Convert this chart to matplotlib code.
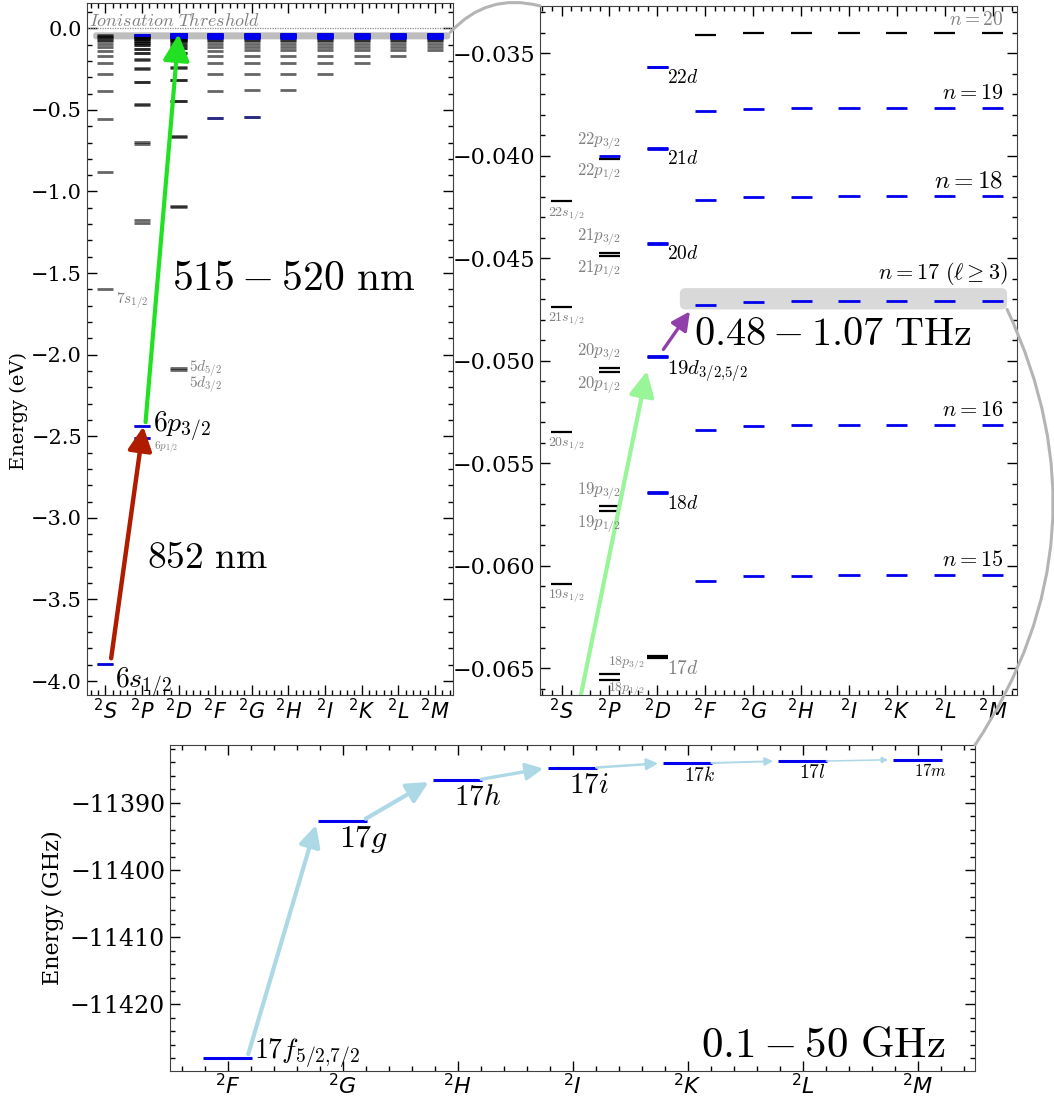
import matplotlib
matplotlib.use('Agg')
import matplotlib.pyplot as plt
from matplotlib.patches import FancyArrowPatch, FancyBboxPatch, ConnectionPatch
from matplotlib.ticker import MultipleLocator, ScalarFormatter

plt.rcParams['font.family'] = 'serif'
plt.rcParams['font.serif'] = ['DejaVu Serif']

# term symbols along the x axis (column index = l)
TERMS = ['S', 'P', 'D', 'F', 'G', 'H', 'I', 'K', 'L', 'M']

# Cs level energies (eV) below the ionisation limit
S_N = list(range(6, 23))
S_E = [-3.8939, -1.5958, -0.8790, -0.5574, -0.3851, -0.2820, -0.2154, -0.1699,
       -0.1375, -0.1135, -0.0953, -0.0811, -0.0699, -0.06088, -0.05348, -0.04736, -0.04223]
P_N = list(range(6, 23))
P12_E = [-2.5080, -1.1954, -0.7064, -0.4674, -0.3322, -0.2484, -0.1927, -0.1538,
         -0.1257, -0.1046, -0.0884, -0.0757, -0.06555, -0.05732, -0.05054, -0.04490, -0.04016]
P32_E = [-2.4393, -1.1729, -0.6962, -0.4618, -0.3289, -0.2462, -0.1912, -0.1528,
         -0.1249, -0.1040, -0.0879, -0.0753, -0.06526, -0.05708, -0.05034, -0.04473, -0.04001]
D_N = list(range(5, 23))
D32_E = [-2.0963, -1.0933, -0.6644, -0.4458, -0.3196, -0.2409, -0.1876, -0.1502, -0.1230,
         -0.1025, -0.0868, -0.0744, -0.06452, -0.05647, -0.04984, -0.04431, -0.03966, -0.03570]
D52_E = [-2.0841, -1.0880, -0.6618, -0.4443, -0.3187, -0.2397, -0.1868, -0.1497, -0.1226,
         -0.1023, -0.0866, -0.0743, -0.06441, -0.05639, -0.04977, -0.04426, -0.03961, -0.03566]
F_N = list(range(5, 21))
F_E = [-0.5499, -0.3815, -0.2800, -0.2142, -0.1691, -0.1369, -0.1131, -0.0950, -0.0809,
       -0.06974, -0.06073, -0.05336, -0.04726, -0.04215, -0.03782, -0.03413]
G_N = list(range(5, 21))
G_E = [-0.5453, -0.3787, -0.2781, -0.2129, -0.1682, -0.1362, -0.1126, -0.0946, -0.0806,
       -0.06948, -0.06052, -0.05319, -0.04712, -0.04203, -0.03772, -0.03404]
H_N = list(range(6, 21))
H_E = [-0.3782, -0.2778, -0.2127, -0.1681, -0.1361, -0.1125, -0.0945, -0.0805,
       -0.06944, -0.06049, -0.05316, -0.04709, -0.04200, -0.03770, -0.03402]
# l >= 6 are hydrogenic at this resolution
HYD_N = list(range(7, 21))
HYD_E = [-0.2777, -0.2126, -0.1680, -0.1361, -0.1124, -0.0945, -0.0805,
         -0.06942, -0.06047, -0.05315, -0.04708, -0.04199, -0.03769, -0.03401]

# n = 17 manifold, l = 3..9 (GHz)
N17_COLS = [3, 4, 5, 6, 7, 8, 9]
N17_E = [-11428.0, -11392.7, -11386.6, -11384.8, -11384.1, -11383.8, -11383.6]
N17_LABELS = [r'$17f_{5/2{,}7/2}$', r'$17g$', r'$17h$', r'$17i$', r'$17k$', r'$17l$', r'$17m$']
N17_SIZES = [20, 23, 21, 21, 14, 14, 12]

# (column, tag, n list, energies)
SERIES = [
    (0, 's', S_N, S_E),
    (1, 'p12', P_N, P12_E),
    (1, 'p32', P_N, P32_E),
    (2, 'd32', D_N, D32_E),
    (2, 'd52', D_N, D52_E),
    (3, 'f', F_N, F_E),
    (4, 'g', G_N, G_E),
    (5, 'h', H_N, H_E),
    (6, 'i', HYD_N, HYD_E),
    (7, 'k', HYD_N[1:], HYD_E[1:]),
    (8, 'l', HYD_N[2:], HYD_E[2:]),
    (9, 'm', HYD_N[3:], HYD_E[3:]),
]

HALF = 0.22
GREY = '#808080'
BLUE = '#0000ee'
CM = dict(math_fontfamily='cm')


def highlighted(col, tag, n):
    if col == 2 and n >= 18:
        return True
    if col >= 3 and 15 <= n <= 19:
        return True
    return tag == 'p32' and n == 22


def level(col, tag, n):
    for c, t, ns, es in SERIES:
        if c == col and t == tag:
            return es[ns.index(n)]


def style_axes(ax, xlim, xminor, ymajor, yminor, xsize, ysize, cols):
    ax.set_xlim(*xlim)
    ax.set_xticks(cols)
    ax.set_xticklabels([f'$^2{TERMS[c]}$' for c in cols], fontsize=xsize)
    ax.xaxis.set_minor_locator(MultipleLocator(xminor))
    ax.yaxis.set_major_locator(MultipleLocator(ymajor))
    ax.yaxis.set_minor_locator(MultipleLocator(yminor))
    ax.tick_params(which='both', direction='in', top=True, right=True, width=1)
    ax.tick_params(which='major', length=7)
    ax.tick_params(which='minor', length=3.5)
    ax.tick_params(axis='x', pad=2)
    ax.tick_params(axis='y', labelsize=ysize)
    for sp in ax.spines.values():
        sp.set_color('0.25')


def arrow(ax, start, end, color, lw, head, shrinkA=0, shrinkB=0):
    ax.add_patch(FancyArrowPatch(start, end, arrowstyle='-|>', mutation_scale=head,
                                 color=color, lw=lw, shrinkA=shrinkA, shrinkB=shrinkB,
                                 zorder=6))


def tag_level(ax, text, x, y, dx, dy, ha, va, size, color='k'):
    ax.annotate(text, xy=(x, y), xytext=(dx, dy), textcoords='offset points',
                ha=ha, va=va, fontsize=size, color=color, zorder=7, **CM)


fig = plt.figure(figsize=(10.54, 10.97), dpi=100)
ax1 = fig.add_axes([0.0825, 0.3665, 0.3475, 0.6308])
ax2 = fig.add_axes([0.5123, 0.3665, 0.4523, 0.6281])
ax3 = fig.add_axes([0.1613, 0.0237, 0.7638, 0.2972])

# ---------------- full spectrum (eV) ----------------
ax1.set_ylim(-4.085, 0.155)
style_axes(ax1, (-0.5, 9.5), 0.2, 0.5, 0.1, 15, 15, range(10))
ax1.set_ylabel('Energy (eV)', fontsize=14)
ax1.yaxis.set_label_coords(-0.16, 0.41)

for col, tag, ns, es in SERIES:
    ax1.hlines(es, col - HALF, col + HALF, colors='k', lw=2, alpha=0.6, zorder=3)
    blue = [e for n, e in zip(ns, es) if highlighted(col, tag, n)]
    if blue:
        ax1.hlines(blue, col - HALF, col + HALF, colors=BLUE, lw=2, zorder=4)

ax1.hlines([S_E[0], P12_E[0], P32_E[0]], [0 - HALF, 1 - HALF, 1 - HALF],
           [0 + HALF, 1 + HALF, 1 + HALF], colors=BLUE, lw=1.8, zorder=4)
ax1.hlines([F_E[0], G_E[0]], [3 - HALF, 4 - HALF], [3 + HALF, 4 + HALF],
           colors='#2a2a86', lw=2, zorder=4)

ax1.add_patch(FancyBboxPatch((-0.33, -0.068), 9.75, 0.043,
                             boxstyle='round,pad=0,rounding_size=0.08',
                             mutation_aspect=0.225, fc='#bebebe', ec='none', zorder=2))
ax1.axhline(0, color='0.55', ls=(0, (1, 1)), lw=0.9, zorder=2)
ax1.text(-0.45, 0.012, r'$\mathit{Ionisation\ Threshold}$', color=GREY, fontsize=13,
         ha='left', va='baseline', **CM)

tag_level(ax1, r'$6s_{1/2}$', HALF, S_E[0], 1, -1, 'left', 'top', 20)
tag_level(ax1, r'$6p_{3/2}$', 1 + HALF, P32_E[0], 2, 0, 'left', 'center', 20)
tag_level(ax1, r'$6p_{1/2}$', 1 + HALF, P12_E[0], 3, -1, 'left', 'top', 8, GREY)
tag_level(ax1, r'$7s_{1/2}$', HALF, S_E[1], 2, -1, 'left', 'top', 11, GREY)
tag_level(ax1, r'$5d_{5/2}$', 2 + HALF, D52_E[0], 2, 0, 'left', 'center', 11, GREY)
tag_level(ax1, r'$5d_{3/2}$', 2 + HALF, D32_E[0], 2, -2.5, 'left', 'top', 11, GREY)

arrow(ax1, (0 + 0.14, S_E[0]), (1 + 0.04, P32_E[0]), '#b01c00', 3.2, 36, shrinkA=4)
arrow(ax1, (1 + 0.09, P32_E[0]), (2.0, D52_E[-1]), '#22e022', 3.0, 40, shrinkA=3)
ax1.text(1.82, -1.602, r'$515-520\ \mathrm{nm}$', fontsize=30, ha='left',
         va='baseline', **CM)
ax1.text(1.13, -3.305, r'$852\ \mathrm{nm}$', fontsize=27, ha='left',
         va='baseline', **CM)

# ---------------- zoom around n = 15-22 (eV) ----------------
ax2.set_ylim(-0.0663, -0.0327)
style_axes(ax2, (-0.45, 9.5), 0.2, 0.005, 0.001, 15, 16, range(10))

for col, tag, ns, es in SERIES:
    for n, e in zip(ns, es):
        if highlighted(col, tag, n):
            ax2.hlines(e, col - HALF, col + HALF, colors=BLUE, lw=2, zorder=4)
        else:
            ax2.hlines(e, col - HALF, col + HALF, colors='k', lw=1.6, zorder=3)

ax2.add_patch(FancyBboxPatch((2.47, -0.0475), 6.83, 0.00104,
                             boxstyle='round,pad=0,rounding_size=0.12',
                             mutation_aspect=0.002334, fc='#d9d9d9', ec='none', zorder=2))

for n in range(19, 23):
    tag_level(ax2, rf'${n}s_{{1/2}}$', -HALF, level(0, 's', n), -2, -3,
              'left', 'top', 10, GREY)
for n in range(19, 23):
    tag_level(ax2, rf'${n}p_{{3/2}}$', 1 + HALF, level(1, 'p32', n), 1, 3,
              'right', 'bottom', 12, GREY)
    tag_level(ax2, rf'${n}p_{{1/2}}$', 1 + HALF, level(1, 'p12', n), 1, -2,
              'right', 'top', 12, GREY)
tag_level(ax2, r'$18p_{3/2}$', 1 - 0.02, level(1, 'p32', 18), 0, 1,
          'left', 'bottom', 10, GREY)
tag_level(ax2, r'$18p_{1/2}$', 1 - 0.02, level(1, 'p12', 18), 0, -1,
          'left', 'top', 10, GREY)

d_labels = {17: r'$17d$', 18: r'$18d$', 19: r'$19d_{3/2{,}5/2}$',
            20: r'$20d$', 21: r'$21d$', 22: r'$22d$'}
for n, txt in d_labels.items():
    tag_level(ax2, txt, 2 + HALF, level(2, 'd32', n), -1, -1, 'left', 'top',
              15 if n == 19 else 14, GREY if n == 17 else 'k')

n_sizes = {20: 14, 19: 16, 18: 18, 16: 16, 15: 16}
for n, size in n_sizes.items():
    tag_level(ax2, rf'$n={n}$', 9 + HALF, level(9, 'm', n), 0, 3,
              'right', 'bottom', size, GREY if n == 20 else 'k')
tag_level(ax2, r'$n=17\ (\ell\geq3)$', 9.32, level(9, 'm', 17), 0, 10,
          'right', 'bottom', 16)

arrow(ax2, (0.3, -0.0675), (2 - 0.16, level(2, 'd32', 19)), '#98f598', 3.0, 38,
      shrinkB=10)
arrow(ax2, (2 + 0.01, level(2, 'd32', 19)), (3 - 0.22, level(3, 'f', 17)),
      '#9040a8', 2.4, 28, shrinkA=7, shrinkB=6)
ax2.text(2.76, -0.04924, r'$0.48-1.07\ \mathrm{THz}$', fontsize=29, ha='left',
         va='baseline', **CM)

# ---------------- n = 17, l >= 3 (GHz) ----------------
ax3.set_ylim(-11429.9, -11381.4)
style_axes(ax3, (2.5, 9.5), 0.2, 10, 2, 16, 17, N17_COLS)
ax3.yaxis.set_major_formatter(ScalarFormatter(useOffset=False))
ax3.set_ylabel('Energy (GHz)', fontsize=16)

ax3.hlines(N17_E, [c - 0.21 for c in N17_COLS], [c + 0.21 for c in N17_COLS],
           colors=BLUE, lw=2.2, zorder=4)
tag_level(ax3, N17_LABELS[0], N17_COLS[0] + 0.21, N17_E[0], 2, 0, 'left', 'baseline',
          N17_SIZES[0])
for c, e, txt, size in zip(N17_COLS[1:], N17_E[1:], N17_LABELS[1:], N17_SIZES[1:]):
    tag_level(ax3, txt, c - 0.03, e, 0, -2, 'left', 'top', size)

ARROW_LW = [3.0, 3.0, 2.4, 1.8, 1.4, 1.1]
ARROW_HEAD = [32, 32, 26, 17, 12, 9]
for i in range(len(N17_COLS) - 1):
    arrow(ax3, (N17_COLS[i] + 0.17, N17_E[i]), (N17_COLS[i + 1] - 0.22, N17_E[i + 1]),
          '#add8e6', ARROW_LW[i], ARROW_HEAD[i], shrinkA=3, shrinkB=3)
ax3.text(7.12, -11427.8, r'$0.1-50\ \mathrm{GHz}$', fontsize=31, ha='left',
         va='baseline', **CM)

# curved guides linking the zoomed regions
con1 = ConnectionPatch(xyA=(9.42, -0.025), coordsA=ax1.transData,
                       xyB=(0, 1), coordsB=ax2.transAxes,
                       connectionstyle='arc3,rad=-0.3', color='#b4b4b4', lw=2.2)
con2 = ConnectionPatch(xyA=(9.30, -0.0475), coordsA=ax2.transData,
                       xyB=(1, 1), coordsB=ax3.transAxes,
                       connectionstyle='arc3,rad=-0.28', color='#b4b4b4', lw=2.2)
fig.add_artist(con1)
fig.add_artist(con2)

fig.savefig('out.png', dpi=100)
